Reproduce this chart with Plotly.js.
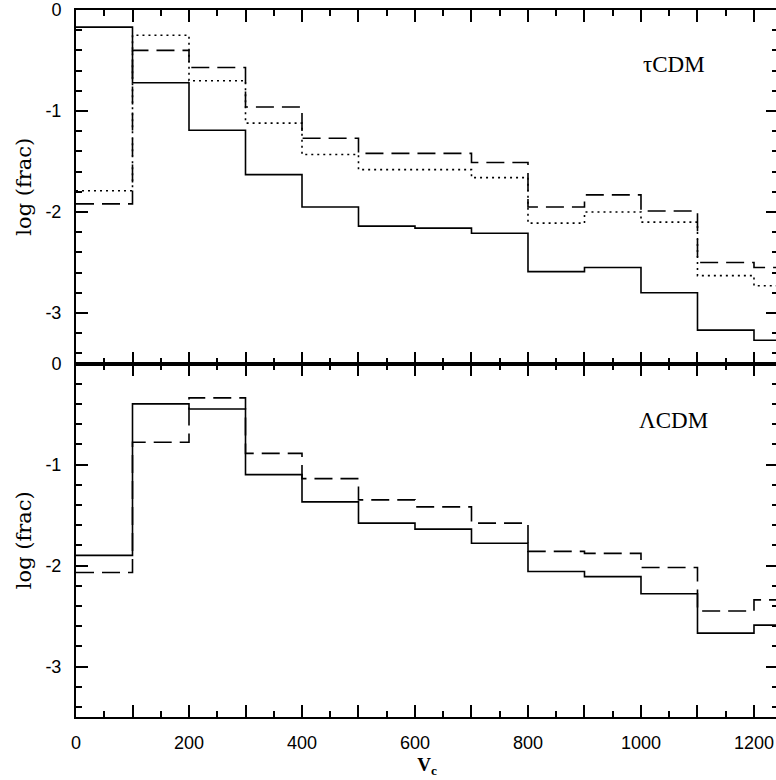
<!DOCTYPE html>
<html>
<head>
<meta charset="utf-8">
<script src="https://cdn.plot.ly/plotly-3.0.1.min.js"></script>
<style>html,body{margin:0;padding:0;overflow:hidden;background:#fff;}#plot{width:782px;height:780px;}</style>
</head>
<body>
<div id="plot"></div>
<script>
// Bin left edges (V_c), bin width 100
const binEdges = [0, 100, 200, 300, 400, 500, 600, 700, 800, 900, 1000, 1100, 1200];
// tauCDM panel
const tauSolid  = [-0.17, -0.72, -1.19, -1.63, -1.95, -2.14, -2.16, -2.21, -2.59, -2.55, -2.80, -3.17, -3.27];
const tauDashed = [-1.92, -0.40, -0.57, -0.96, -1.27, -1.42, -1.42, -1.51, -1.95, -1.83, -1.99, -2.50, -2.55];
const tauDotted = [-1.79, -0.25, -0.70, -1.12, -1.43, -1.58, -1.58, -1.66, -2.11, -2.00, -2.10, -2.63, -2.73];
// LambdaCDM panel
const lamSolid  = [-1.90, -0.40, -0.45, -1.10, -1.37, -1.58, -1.64, -1.78, -2.06, -2.11, -2.28, -2.67, -2.59];
const lamDashed = [-2.07, -0.78, -0.34, -0.89, -1.14, -1.35, -1.42, -1.58, -1.86, -1.88, -2.02, -2.45, -2.34];
// Tick labels
const yTickVals = [0, -1, -2, -3];
const yTickText = ['0', '-1', '-2', '-3'];
const panelLabels = ['\u03c4CDM', '\u039bCDM'];

const binWidth = binEdges[1] - binEdges[0];
function stepX() { return binEdges.concat([binEdges[binEdges.length - 1] + binWidth]); }
function stepY(v) { return v.concat([v[v.length - 1]]); }

function tr(vals, xa, ya, dash) {
  return {
    type: 'scatter', mode: 'lines', x: stepX(), y: stepY(vals),
    xaxis: xa, yaxis: ya, line: {shape: 'hv', color: '#000', width: 1.6, dash: dash},
    hoverinfo: 'skip', showlegend: false
  };
}

const data = [
  tr(tauSolid, 'x2', 'y2', 'solid'),
  tr(tauDashed, 'x2', 'y2', '18px,8px'),
  tr(tauDotted, 'x2', 'y2', '2px,4px'),
  tr(lamSolid, 'x', 'y', 'solid'),
  tr(lamDashed, 'x', 'y', '18px,8px')
];

const tickFont = {family: 'Liberation Sans, Arial, sans-serif', size: 18, color: '#000'};
const xRange = [0, 1242.5];
function xAxis(anchor, showLabels) {
  return {
    anchor: anchor, range: xRange.slice(), showgrid: false, zeroline: false,
    showline: true, linecolor: '#000', linewidth: 2, mirror: 'ticks',
    ticks: 'inside', ticklen: 12, tickwidth: 2, tickcolor: '#000',
    tickmode: 'linear', tick0: 0, dtick: binWidth, ticklabelstep: 2,
    showticklabels: showLabels, tickfont: tickFont, ticklabelstandoff: 8,
    minor: {dtick: binWidth / 2, tick0: 0, ticks: 'inside', ticklen: 6, tickwidth: 2, tickcolor: '#000', showgrid: false}
  };
}
function yAxis(anchor, domain) {
  return {
    anchor: anchor, domain: domain, range: [-3.5, 0], showgrid: false, zeroline: false,
    showline: true, linecolor: '#000', linewidth: 2, mirror: 'ticks',
    ticks: 'inside', ticklen: 12, tickwidth: 2, tickcolor: '#000',
    tickmode: 'array', tickvals: yTickVals, ticktext: yTickText,
    tickfont: tickFont, ticklabelstandoff: 9,
    minor: {dtick: 0.2, tick0: 0, ticks: 'inside', ticklen: 6, tickwidth: 2, tickcolor: '#000', showgrid: false},
    title: {text: 'log (frac)', font: {family: 'DejaVu Serif, serif', size: 21, color: '#000'}, standoff: 8}
  };
}

const xa = xAxis('y', true);
xa.title = {text: '<b>V</b><sub><b>c</b></sub>', font: {family: 'Liberation Serif, serif', size: 19, color: '#000'}, standoff: 6};
const xa2 = xAxis('y2', false);

const annFont = {family: 'Liberation Serif, serif', size: 23, color: '#000'};
const layout = {
  width: 782, height: 780,
  margin: {l: 76, r: 4, t: 10, b: 63},
  paper_bgcolor: '#fff', plot_bgcolor: '#fff',
  xaxis: xa, xaxis2: xa2,
  yaxis: yAxis('x', [0, 0.5]),
  yaxis2: yAxis('x2', [0.5, 1]),
  annotations: [
    {xref: 'x2', yref: 'y2', x: 1058, y: -0.54, text: panelLabels[0], showarrow: false, font: annFont, xanchor: 'center', yanchor: 'middle'},
    {xref: 'x', yref: 'y', x: 1058, y: -0.56, text: panelLabels[1], showarrow: false, font: annFont, xanchor: 'center', yanchor: 'middle'}
  ]
};

Plotly.newPlot('plot', data, layout, {displayModeBar: false, staticPlot: true});
</script>
</body>
</html>
